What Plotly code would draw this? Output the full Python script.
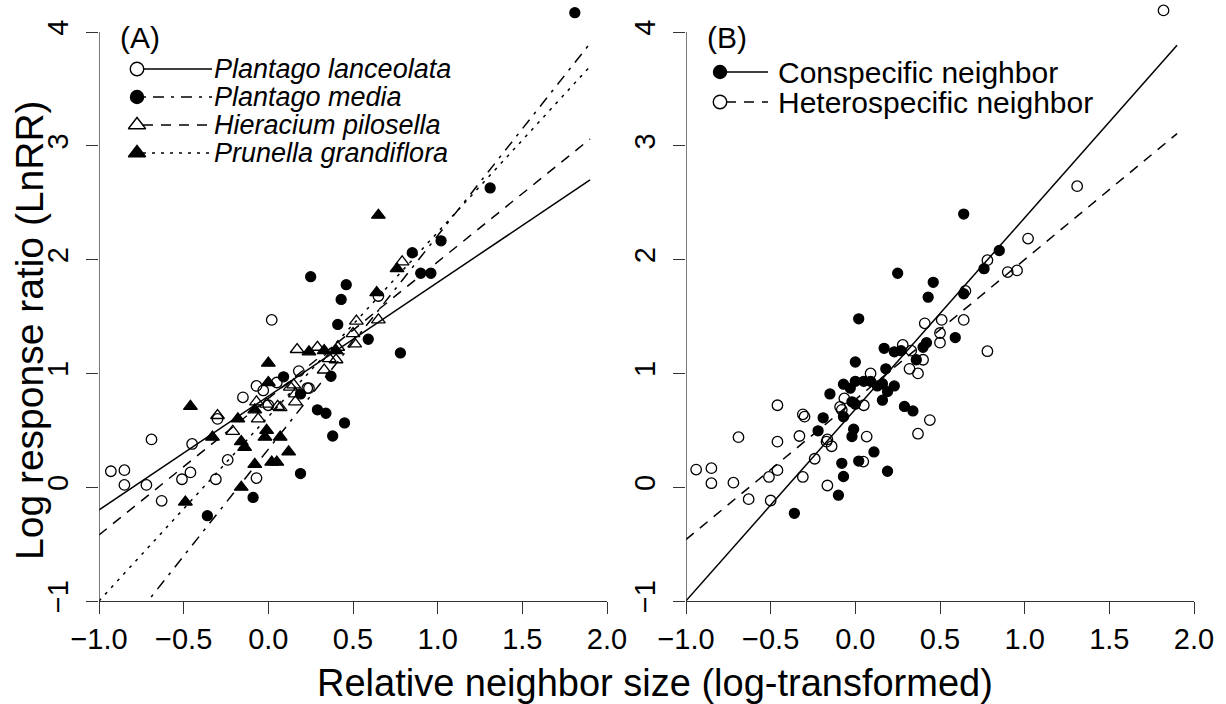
import plotly.graph_objects as go

# ---------------- data ----------------
# Panel A: points by focal species
lan_x = [-0.93, -0.85, -0.85, -0.72, -0.69, -0.63, -0.51, -0.46, -0.45, -0.31, -0.30, -0.24,
         -0.15, -0.07, -0.03, -0.07, 0.02, 0.00, 0.05, 0.18, 0.23, 0.24, 0.65]
lan_y = [0.14, 0.15, 0.02, 0.02, 0.42, -0.12, 0.07, 0.13, 0.38, 0.07, 0.60, 0.24,
         0.79, 0.89, 0.85, 0.08, 1.47, 0.72, 0.92, 1.02, 0.87, 0.87, 1.68]

med_x = [0.25, 0.46, 0.43, 0.41, 0.09, 0.37, 0.19, 0.29, 0.34, 0.45, 0.38, 0.19, -0.09,
         -0.36, 1.02, 0.85, 0.90, 0.96, 0.59, 0.78, 1.31, 1.81]
med_y = [1.85, 1.78, 1.65, 1.43, 0.97, 0.975, 0.82, 0.68, 0.65, 0.565, 0.45, 0.12, -0.09,
         -0.25, 2.165, 2.06, 1.88, 1.88, 1.30, 1.18, 2.63, 4.17]

hie_x = [-0.30, -0.21, -0.06, -0.07, -0.01, 0.055, 0.16, 0.16, 0.15, 0.17, 0.29, 0.33,
         0.36, 0.40, 0.41, 0.51, 0.50, 0.52, 0.65, 0.79, 0.13, 0.07]
hie_y = [0.63, 0.49, 0.60, 0.75, 0.73, 0.71, 0.82, 0.75, 0.90, 1.21, 1.23, 1.03,
         1.13, 1.12, 1.23, 1.26, 1.35, 1.46, 1.47, 1.98, 0.88, 0.70]

pru_x = [0.00, 0.00, -0.46, -0.18, -0.33, -0.08, -0.16, -0.14, -0.01, -0.02, 0.07, 0.12,
         -0.08, 0.02, 0.05, -0.16, -0.49, 0.24, 0.33, 0.40, 0.65, 0.76, 0.64]
pru_y = [1.09, 0.92, 0.71, 0.60, 0.44, 0.68, 0.40, 0.35, 0.50, 0.44, 0.44, 0.31,
         0.20, 0.22, 0.22, 0.00, -0.13, 1.19, 1.20, 1.20, 2.39, 1.92, 1.71]

# Panel B: points by neighbour type
con_x = [0.25, 0.46, 0.43, 0.02, 0.17, 0.23, 0.27, 0.40, 0.42, 0.36, 0.00, 0.18, 0.00, 0.05,
         0.09, -0.07, -0.03, 0.13, 0.16, 0.19, 0.23, 0.16, -0.15, -0.02, 0.00, -0.07, -0.19,
         -0.22, -0.01, -0.02, 0.29, 0.34, 0.11, 0.02, -0.08, 0.19, -0.07, -0.10, -0.36, 0.64,
         0.85, 0.76, 0.64, 0.59]
con_y = [1.88, 1.80, 1.67, 1.48, 1.22, 1.19, 1.20, 1.23, 1.27, 1.12, 1.10, 1.04, 0.93, 0.93,
         0.93, 0.905, 0.87, 0.89, 0.91, 0.84, 0.89, 0.765, 0.82, 0.75, 0.73, 0.62, 0.61,
         0.495, 0.51, 0.445, 0.71, 0.67, 0.31, 0.23, 0.21, 0.14, 0.094, -0.07, -0.23, 2.40,
         2.08, 1.92, 1.70, 1.315]

het_x = [-0.94, -0.85, -0.85, -0.72, -0.69, -0.63, -0.51, -0.50, -0.46, -0.46, -0.46, -0.31,
         -0.30, -0.33, -0.31, -0.24, -0.17, -0.165, -0.14, -0.165, -0.09, -0.08, -0.065, 0.05,
         0.067, 0.047, 0.09, 0.28, 0.33, 0.32, 0.37, 0.40, 0.41, 0.44, 0.37, 1.02, 0.78, 0.90,
         0.955, 0.65, 0.51, 0.64, 0.50, 0.50, 0.78, 1.82, 1.31]
het_y = [0.155, 0.167, 0.035, 0.04, 0.44, -0.105, 0.09, -0.117, 0.72, 0.40, 0.15, 0.64,
         0.62, 0.45, 0.09, 0.25, 0.40, 0.42, 0.36, 0.015, 0.705, 0.68, 0.78, 0.72,
         0.445, 0.225, 1.0, 1.25, 1.20, 1.04, 1.0, 1.12, 1.44, 0.59, 0.47, 2.185, 1.995, 1.89,
         1.905, 1.725, 1.47, 1.47, 1.355, 1.27, 1.195, 4.19, 2.645]

# fitted regression lines: (intercept, slope)
species_names = ["Plantago lanceolata", "Plantago media", "Hieracium pilosella", "Prunella grandiflora"]
species_fit = [(0.80, 1.00), (0.334, 1.877), (0.78, 1.20), (0.62, 1.62)]
neigh_names = ["Conspecific neighbor", "Heterospecific neighbor"]
neigh_fit = [(0.685, 1.683), (0.77, 1.23)]
fit_xrange = [-1.0, 1.9]

x_ticks = [-1.0, -0.5, 0.0, 0.5, 1.0, 1.5, 2.0]
y_ticks = [-1, 0, 1, 2, 3, 4]

# ---------------- styling ----------------
W, H = 1226, 704
FONT = "Liberation Sans, Arial, Helvetica, sans-serif"
AX = "#333333"
DASHED = "10px,8px"
DOTTED = "3px,6px"
DOTDASH = "3px,7px,11px,7px"

sp_style = [
    dict(symbol="circle-open", size=10.5, dash="solid"),
    dict(symbol="circle", size=10, dash=DOTDASH),
    dict(symbol="triangle-up-open", size=12, dash=DASHED),
    dict(symbol="triangle-up", size=12, dash=DOTTED),
]
nb_style = [
    dict(symbol="circle", size=10, dash="solid"),
    dict(symbol="circle-open", size=10.5, dash=DASHED),
]

# plot areas in pixels (y = 4 at Y_TOP, y = -1 at Y_BOT)
A_X0, A_X1 = 99, 607
B_X0, B_X1 = 686, 1194
Y_TOP, Y_BOT = 32, 601
Y_MAX = 4.25                       # axis range extends a little above the last tick
PX_PER_Y = (Y_BOT - Y_TOP) / 5.0
Y_DOM_TOP = Y_TOP - (Y_MAX - 4) * PX_PER_Y

fig = go.Figure()


def pts(x, y, st, xa, ya):
    fig.add_trace(go.Scatter(
        x=x, y=y, mode="markers", xaxis=xa, yaxis=ya, cliponaxis=False,
        marker=dict(symbol=st["symbol"], size=st["size"], color="black",
                    line=dict(color="black", width=1.3)),
        hoverinfo="skip"))


def fitline(b0, b1, st, xa, ya):
    xs = fit_xrange
    ys = [b0 + b1 * v for v in xs]
    fig.add_trace(go.Scatter(
        x=xs, y=ys, mode="lines", xaxis=xa, yaxis=ya,
        line=dict(color="black", width=1.5, dash=st["dash"]), hoverinfo="skip"))


# Panel A
for (xx, yy), st, (b0, b1) in zip([(lan_x, lan_y), (med_x, med_y), (hie_x, hie_y), (pru_x, pru_y)],
                                  sp_style, species_fit):
    fitline(b0, b1, st, "x", "y")
    pts(xx, yy, st, "x", "y")

# Panel B
for (xx, yy), st, (b0, b1) in zip([(con_x, con_y), (het_x, het_y)], nb_style, neigh_fit):
    fitline(b0, b1, st, "x2", "y2")
    pts(xx, yy, st, "x2", "y2")


# ---------- legends (positions given in pixels, converted to data units) ----------
def px2data(px, py, x0, x1):
    xd = -1 + (px - x0) * 3.0 / (x1 - x0)
    yd = 4 - (py - Y_TOP) / PX_PER_Y
    return xd, yd


annotations = []


def legend_block(names, styles, x0, x1, xa, ya, mx, l0, l1, tx, rows, italic, fsize):
    for name, st, ry in zip(names, styles, rows):
        a, yv = px2data(l0, ry, x0, x1)
        b, _ = px2data(l1, ry, x0, x1)
        fig.add_trace(go.Scatter(x=[a, b], y=[yv, yv], mode="lines", xaxis=xa, yaxis=ya,
                                 line=dict(color="black", width=1.5, dash=st["dash"]),
                                 cliponaxis=False, hoverinfo="skip"))
        m, _ = px2data(mx, ry, x0, x1)
        fig.add_trace(go.Scatter(x=[m], y=[yv], mode="markers", xaxis=xa, yaxis=ya,
                                 cliponaxis=False, hoverinfo="skip",
                                 marker=dict(symbol=st["symbol"], size=st["size"] + 3,
                                             color="black", line=dict(color="black", width=1.4))))
        annotations.append(dict(
            x=tx / W, y=1 - ry / H, xref="paper", yref="paper", xanchor="left", yanchor="middle",
            text=f"<i>{name}</i>" if italic else name, showarrow=False,
            font=dict(family=FONT, size=fsize, color="black")))


legend_block(species_names, sp_style, A_X0, A_X1, "x", "y",
             137, 143, 212, 212, [69, 97, 125, 153], True, 27)
legend_block(neigh_names, nb_style, B_X0, B_X1, "x2", "y2",
             720, 726, 768, 776, [72, 102], False, 30)

annotations += [
    dict(x=140 / W, y=1 - 37 / H, xref="paper", yref="paper", text="(A)", showarrow=False,
         xanchor="center", yanchor="middle", font=dict(family=FONT, size=30, color="black")),
    dict(x=727 / W, y=1 - 37 / H, xref="paper", yref="paper", text="(B)", showarrow=False,
         xanchor="center", yanchor="middle", font=dict(family=FONT, size=30, color="black")),
    dict(x=655 / W, y=1 - 683 / H, xref="paper", yref="paper",
         text="Relative neighbor size (log-transformed)", showarrow=False,
         xanchor="center", yanchor="middle", font=dict(family=FONT, size=38, color="black")),
    dict(x=29 / W, y=1 - 330 / H, xref="paper", yref="paper",
         text="Log response ratio (LnRR)", showarrow=False, textangle=-90,
         xanchor="center", yanchor="middle", font=dict(family=FONT, size=39, color="black")),
]

# y axis lines drawn only over the tick span (-1 .. 4)
shapes = [
    dict(type="line", xref="x", yref="y", x0=-1, x1=-1, y0=-1, y1=4,
         line=dict(color=AX, width=1.3)),
    dict(type="line", xref="x2", yref="y2", x0=-1, x1=-1, y0=-1, y1=4,
         line=dict(color=AX, width=1.3)),
]

xcommon = dict(range=[-1, 2], tickvals=x_ticks, tickformat=".1f", showgrid=False, zeroline=False,
               showline=True, linecolor=AX, linewidth=1.3, ticks="outside", ticklen=12,
               tickwidth=1.3, tickcolor=AX, ticklabelstandoff=0, automargin=False,
               tickfont=dict(family=FONT, size=29, color="black"))
ycommon = dict(range=[-1, Y_MAX], tickvals=y_ticks, showgrid=False, zeroline=False,
               showline=False, ticks="outside", ticklen=12,
               tickwidth=1.3, tickcolor=AX, tickangle=-90, ticklabelstandoff=6, automargin=False,
               tickfont=dict(family=FONT, size=29, color="black"))

fig.update_layout(
    width=W, height=H, margin=dict(l=0, r=0, t=0, b=0, autoexpand=False),
    paper_bgcolor="white", plot_bgcolor="white", showlegend=False,
    xaxis=dict(domain=[A_X0 / W, A_X1 / W], anchor="y", **xcommon),
    yaxis=dict(domain=[1 - Y_BOT / H, 1 - Y_DOM_TOP / H], anchor="x", **ycommon),
    xaxis2=dict(domain=[B_X0 / W, B_X1 / W], anchor="y2", **xcommon),
    yaxis2=dict(domain=[1 - Y_BOT / H, 1 - Y_DOM_TOP / H], anchor="x2", **ycommon),
    annotations=annotations,
    shapes=shapes,
)

fig.write_html("out.html")
